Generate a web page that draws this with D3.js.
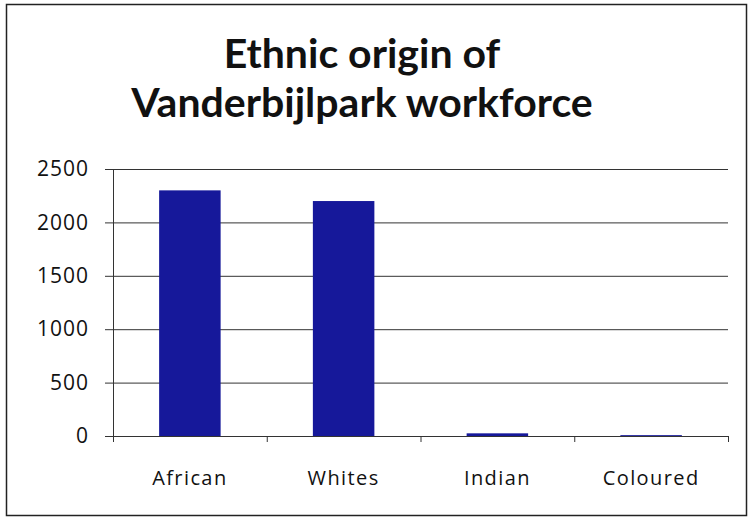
<!DOCTYPE html>
<html>
<head>
<meta charset="utf-8">
<script src="https://d3js.org/d3.v7.min.js"></script>
<style>
  body { margin: 0; background: #fff; }
  svg text { font-family: "Open Sans", sans-serif; fill: #111; }
</style>
</head>
<body>
<script>
  // chart data
  var categories = ["African", "Whites", "Indian", "Coloured"];
  var workers = [2300, 2200, 25, 8];
  var yTicks = [0, 500, 1000, 1500, 2000, 2500];
  var titleLines = ["Ethnic origin of", "Vanderbijlpark workforce"];

  var W = 749, H = 518;
  var plot = {left: 113, right: 728, top: 169, bottom: 436};

  var svg = d3.select("body").append("svg")
      .attr("width", W).attr("height", H);

  svg.append("rect")
      .attr("x", 6.5).attr("y", 4.5)
      .attr("width", 740).attr("height", 511)
      .attr("fill", "none").attr("stroke", "#222").attr("stroke-width", 1.5);

  var x = d3.scaleBand().domain(categories)
      .range([plot.left, plot.right]).paddingInner(0.6).paddingOuter(0.3);
  var xEdges = d3.scaleLinear().domain([0, categories.length])
      .range([plot.left, plot.right]);
  var y = d3.scaleLinear().domain([0, 2500]).range([plot.bottom, plot.top]);

  // gridlines + y axis
  var yAxis = d3.axisLeft(y).tickValues(yTicks).tickFormat(d3.format("d"))
      .tickSize(8).tickPadding(16);
  var gy = svg.append("g").attr("transform", "translate(" + plot.left + ",0)").call(yAxis);
  gy.select(".domain").remove();
  gy.selectAll(".tick line").attr("stroke", "#333");
  gy.selectAll(".tick text").style("font-size", "21px")
      .style("letter-spacing", "1px")
      .style("font-family", "'Open Sans', sans-serif");

  svg.append("g").selectAll("line").data(yTicks).join("line")
      .attr("x1", plot.left).attr("x2", plot.right)
      .attr("y1", d => y(d) + 0.5).attr("y2", d => y(d) + 0.5)
      .attr("stroke", "#333").attr("stroke-width", 1);

  svg.append("line")
      .attr("x1", plot.left + 0.5).attr("x2", plot.left + 0.5)
      .attr("y1", plot.top).attr("y2", plot.bottom + 6)
      .attr("stroke", "#333");

  // category boundary ticks
  svg.append("g").selectAll("line").data(d3.range(1, categories.length + 1)).join("line")
      .attr("x1", d => xEdges(d) + 0.5).attr("x2", d => xEdges(d) + 0.5)
      .attr("y1", plot.bottom).attr("y2", plot.bottom + 6)
      .attr("stroke", "#333");

  // bars
  svg.append("g").selectAll("rect").data(categories).join("rect")
      .attr("x", d => x(d)).attr("width", x.bandwidth())
      .attr("y", (d, i) => y(workers[i]))
      .attr("height", (d, i) => plot.bottom - y(workers[i]))
      .attr("fill", "#16189a");

  // category labels
  svg.append("g").selectAll("text").data(categories).join("text")
      .attr("x", d => x(d) + x.bandwidth() / 2).attr("y", 485)
      .attr("text-anchor", "middle").style("font-size", "20px")
      .style("letter-spacing", "1.4px")
      .text(d => d);

  // title
  svg.append("g").selectAll("text").data(titleLines).join("text")
      .attr("x", 362).attr("y", (d, i) => 68 + i * 49)
      .attr("text-anchor", "middle")
      .style("font-family", "Lato, sans-serif")
      .style("font-size", "41px").style("font-weight", "bold")
      .text(d => d);
</script>
</body>
</html>
